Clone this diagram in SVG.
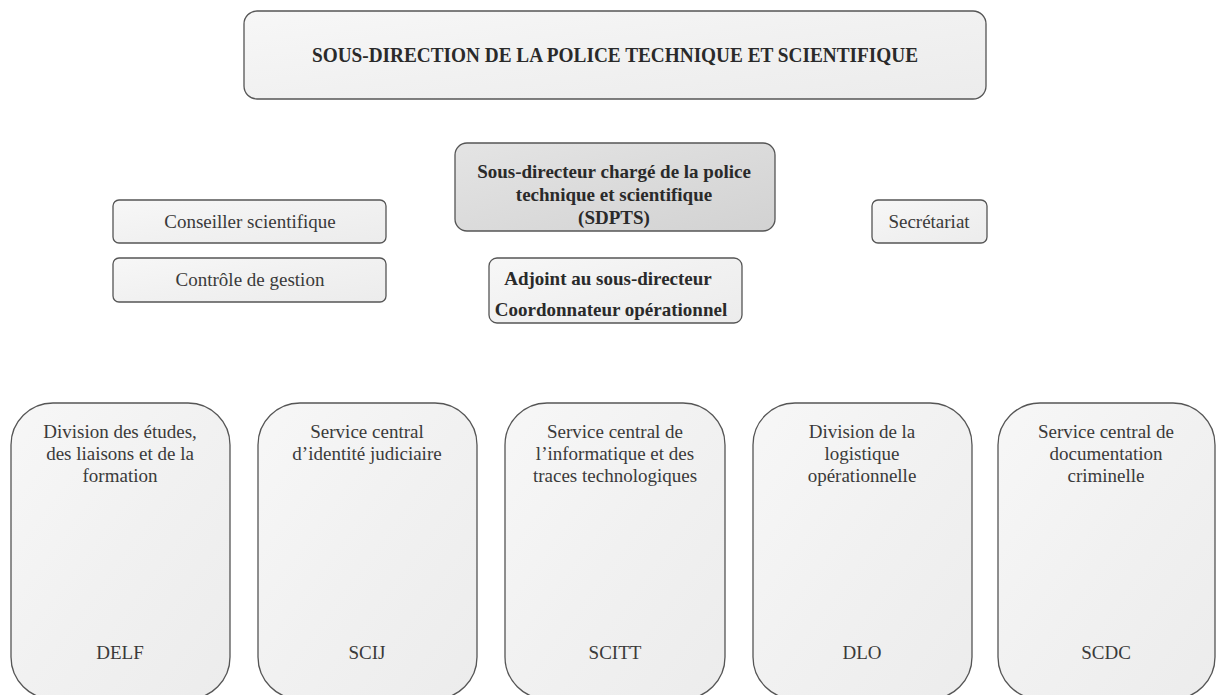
<svg xmlns="http://www.w3.org/2000/svg" width="1217" height="695" viewBox="0 0 1217 695" font-family="'Liberation Serif', 'DejaVu Serif', serif">
<defs>
<linearGradient id="gLight" x1="0" y1="0" x2="1" y2="1">
<stop offset="0" stop-color="#f7f7f7"/>
<stop offset="0.5" stop-color="#f1f1f1"/>
<stop offset="1" stop-color="#ececec"/>
</linearGradient>
<linearGradient id="gDark" x1="0" y1="0" x2="1" y2="1">
<stop offset="0" stop-color="#e4e4e4"/>
<stop offset="1" stop-color="#d2d2d2"/>
</linearGradient>
</defs>
<style>
.box{fill:url(#gLight);stroke:#555;stroke-width:1.3}
.dark{fill:url(#gDark);stroke:#555;stroke-width:1.3}
text{font-family:'Liberation Serif','DejaVu Serif',serif}
.t{font-size:19px;fill:#3a3a3a;text-anchor:middle}
.b{font-size:19px;font-weight:bold;fill:#2a2a2a;text-anchor:middle}
</style>
<rect width="1217" height="695" fill="#ffffff"/>
<g id="connectors"></g>
<g id="top">
<rect class="box" x="244" y="11" width="742" height="88" rx="13"/>
<text class="b" x="312" y="62" style="font-size:20px;text-anchor:start" textLength="606" lengthAdjust="spacingAndGlyphs">SOUS-DIRECTION DE LA POLICE TECHNIQUE ET SCIENTIFIQUE</text>
</g>
<g id="sdpts">
<rect class="dark" x="455" y="143" width="320" height="88" rx="12"/>
<text class="b" x="614" y="178">Sous-directeur chargé de la police</text>
<text class="b" x="614" y="201">technique et scientifique</text>
<text class="b" x="614" y="224">(SDPTS)</text>
</g>
<g id="conseiller">
<rect class="box" x="113" y="200" width="273" height="43" rx="6"/>
<text class="t" x="250" y="228">Conseiller scientifique</text>
</g>
<g id="controle">
<rect class="box" x="113" y="258" width="273" height="44" rx="6"/>
<text class="t" x="250" y="286">Contrôle de gestion</text>
</g>
<g id="secretariat">
<rect class="box" x="872" y="200" width="115" height="43" rx="6"/>
<text class="t" x="929" y="228">Secrétariat</text>
</g>
<g id="adjoint">
<rect class="box" x="489" y="258" width="253" height="65" rx="8"/>
<text class="b" x="608" y="285">Adjoint au sous-directeur</text>
<text class="b" x="611" y="316">Coordonnateur opérationnel</text>
</g>
<g id="delf">
<rect class="box" x="11" y="403" width="219" height="296" rx="42"/>
<text class="t" x="120" y="438">Division des études,</text>
<text class="t" x="120" y="460">des liaisons et de la</text>
<text class="t" x="120" y="482">formation</text>
<text class="t" x="120" y="659">DELF</text>
</g>
<g id="scij">
<rect class="box" x="258" y="403" width="219" height="296" rx="42"/>
<text class="t" x="367" y="438">Service central</text>
<text class="t" x="367" y="460">d’identité judiciaire</text>
<text class="t" x="367" y="659">SCIJ</text>
</g>
<g id="scitt">
<rect class="box" x="505" y="403" width="220" height="296" rx="42"/>
<text class="t" x="615" y="438">Service central de</text>
<text class="t" x="615" y="460">l’informatique et des</text>
<text class="t" x="615" y="482">traces technologiques</text>
<text class="t" x="615" y="659">SCITT</text>
</g>
<g id="dlo">
<rect class="box" x="753" y="403" width="219" height="296" rx="42"/>
<text class="t" x="862" y="438">Division de la</text>
<text class="t" x="862" y="460">logistique</text>
<text class="t" x="862" y="482">opérationnelle</text>
<text class="t" x="862" y="659">DLO</text>
</g>
<g id="scdc">
<rect class="box" x="998" y="403" width="217" height="296" rx="42"/>
<text class="t" x="1106" y="438">Service central de</text>
<text class="t" x="1106" y="460">documentation</text>
<text class="t" x="1106" y="482">criminelle</text>
<text class="t" x="1106" y="659">SCDC</text>
</g>
</svg>
